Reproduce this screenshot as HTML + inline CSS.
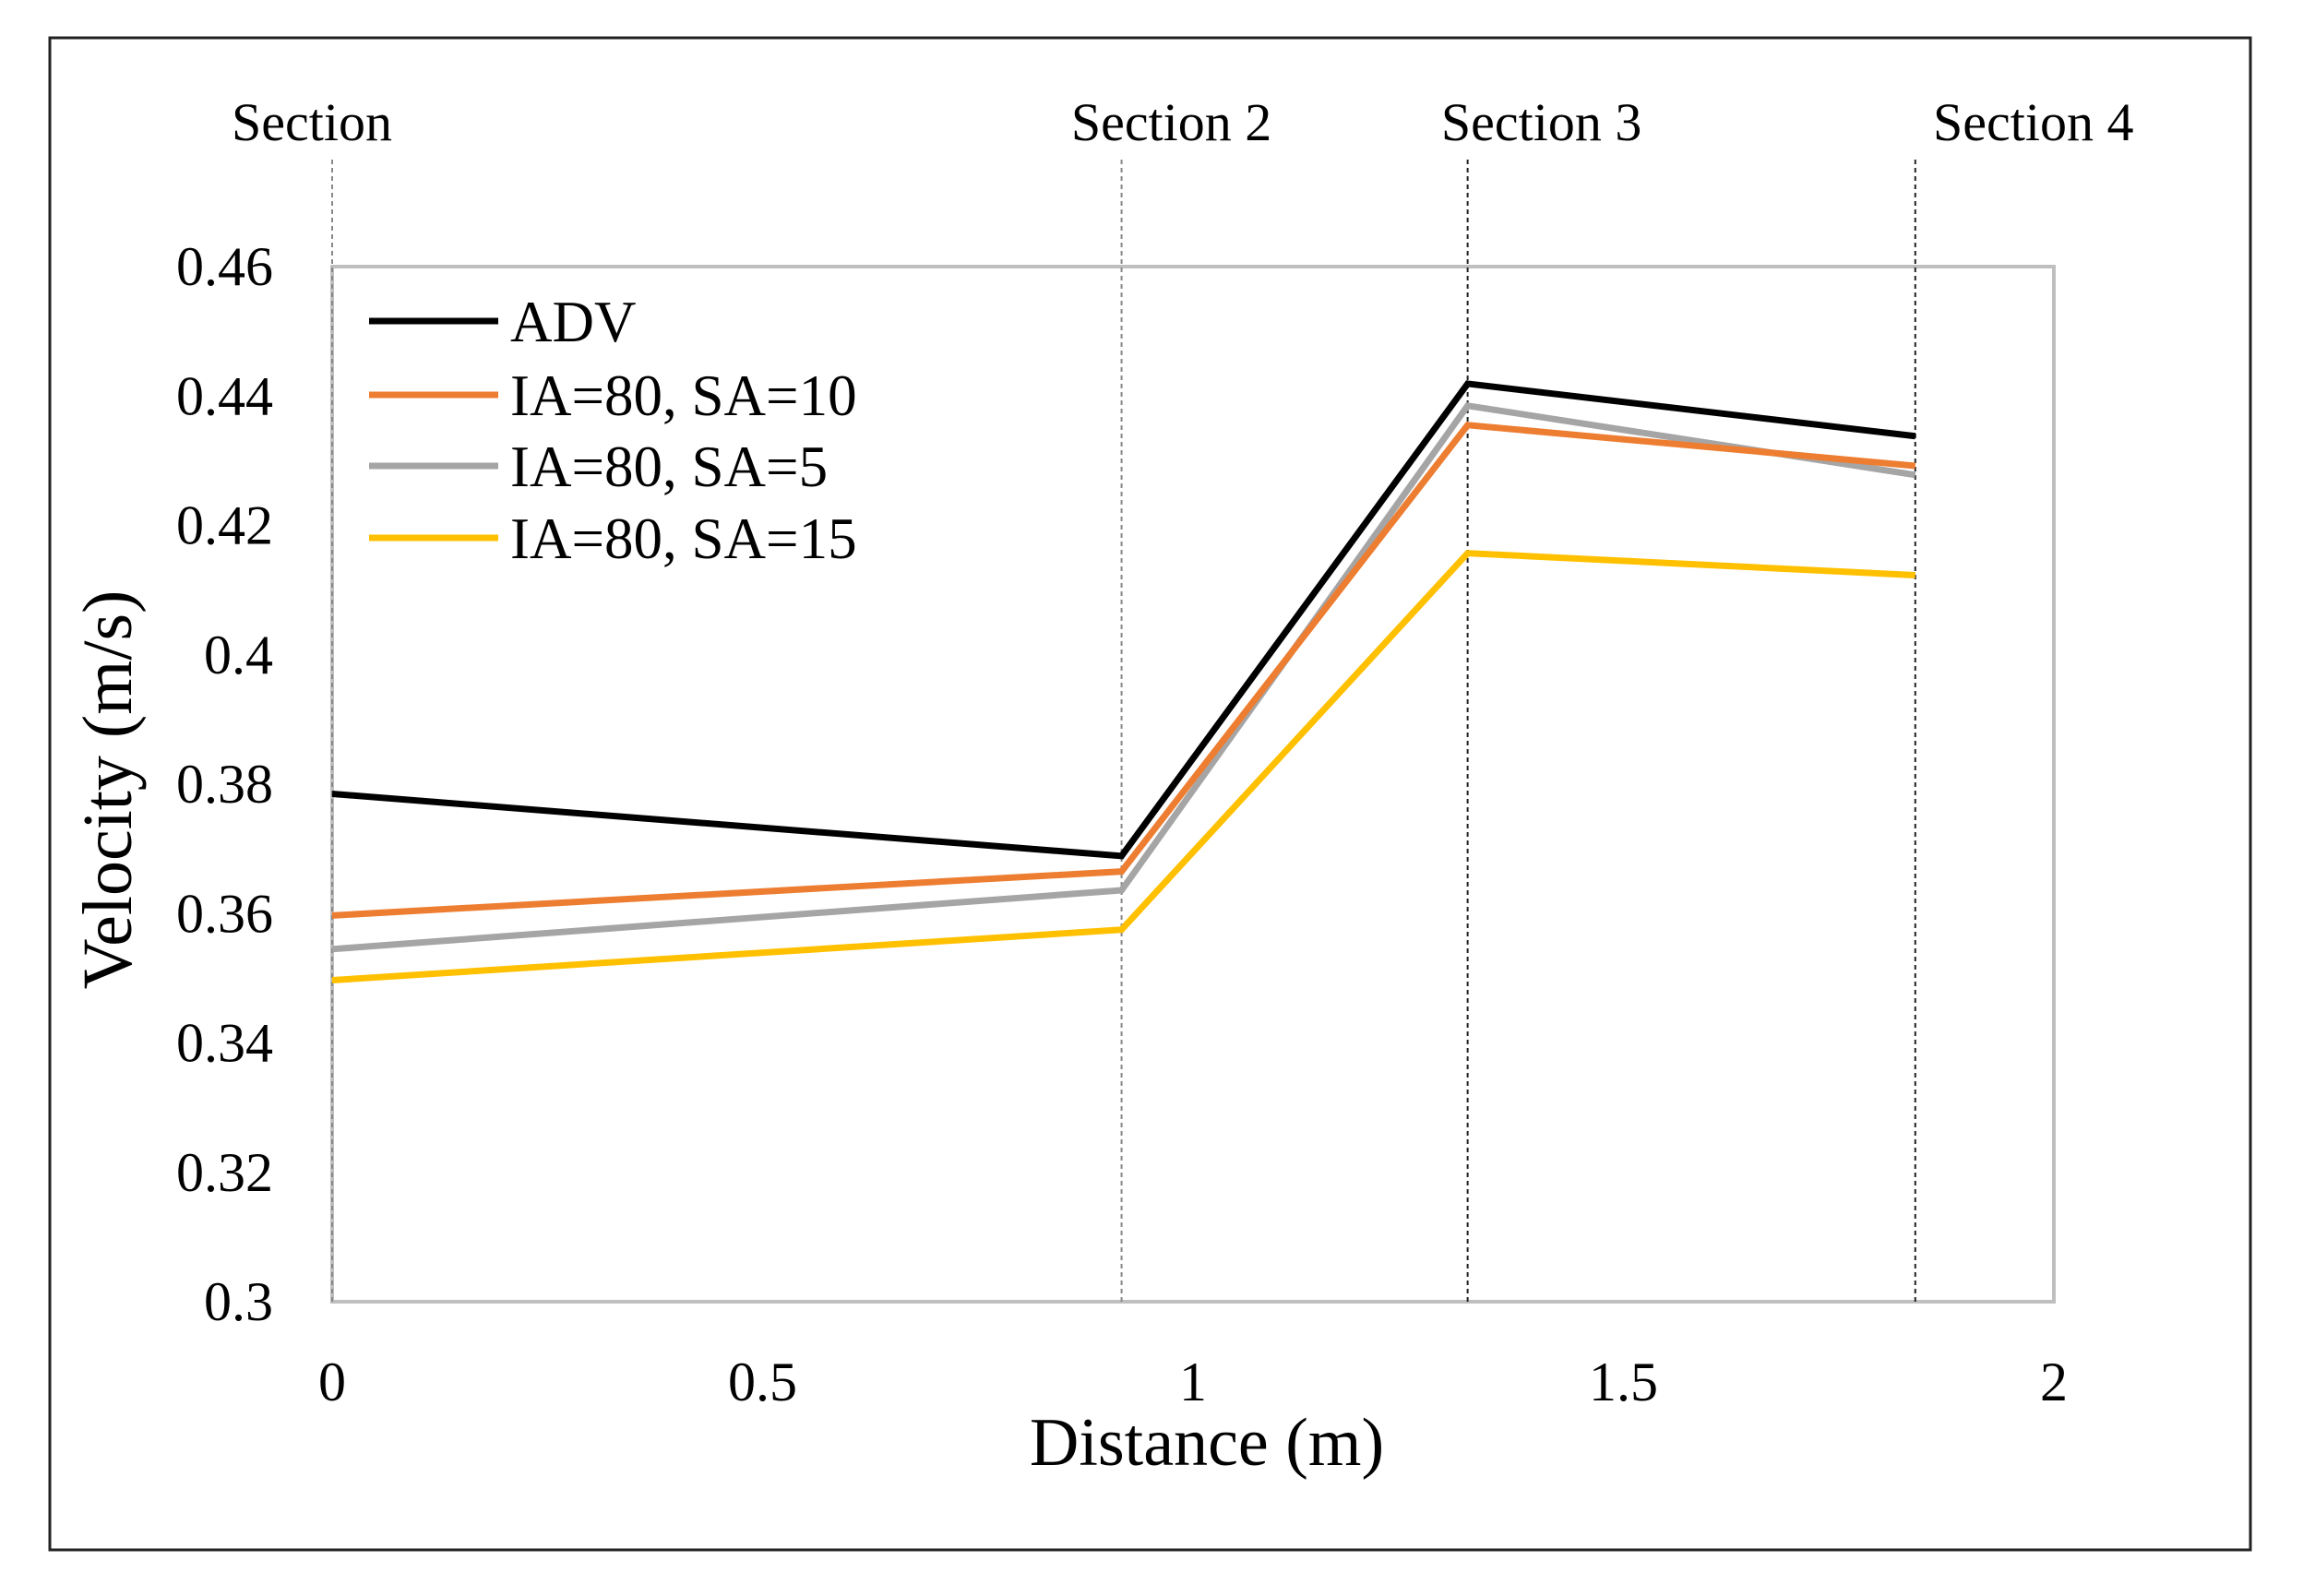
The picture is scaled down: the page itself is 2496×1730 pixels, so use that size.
<!DOCTYPE html>
<html><head><meta charset="utf-8"><style>
html,body{margin:0;padding:0;background:#fff;}
svg{display:block;font-family:"Liberation Serif",serif;}
</style></head><body>
<svg id="chart" width="2496" height="1730" viewBox="0 0 2496 1730">
<rect x="54" y="41" width="2385" height="1639" fill="#fff" stroke="#222" stroke-width="3"/>
<g id="grid"></g>
<g id="series"></g>
<g id="legend"></g>
<text x="1308" y="1588" font-size="74" text-anchor="middle">Distance (m)</text>
<text transform="translate(142,856) rotate(-90)" font-size="76" text-anchor="middle">Velocity (m/s)</text>
</svg>
<script>
const categories = [0, 0.917, 1.319, 1.839];
const seriesNames = ["ADV", "IA=80, SA=10", "IA=80, SA=5", "IA=80, SA=15"];
const adv = [0.3785, 0.3689, 0.4419, 0.4338];
const sa10 = [0.3597, 0.3665, 0.4355, 0.4292];
const sa5 = [0.3545, 0.3636, 0.4385, 0.4278];
const sa15 = [0.3497, 0.3575, 0.4157, 0.4123];
const yTicks = ["0.3","0.32","0.34","0.36","0.38","0.4","0.42","0.44","0.46"];
const xTicks = ["0","0.5","1","1.5","2"];
const sectionLabels = ["Section","Section 2","Section 3","Section 4"];

const NS="http://www.w3.org/2000/svg";
const X0=360,X1=2226,Y0=1411,Y1=289;
const xs=v=>X0+(v-0)/(2-0)*(X1-X0);
const ys=v=>Y0-(v-0.3)/(0.46-0.3)*(Y0-Y1);
function mk(tag,attrs,parent){const e=document.createElementNS(NS,tag);for(const k in attrs)e.setAttribute(k,attrs[k]);parent.appendChild(e);return e;}
const grid=document.getElementById('grid');
const series=document.getElementById('series');
const legend=document.getElementById('legend');

const frame=mk('rect',{x:X0,y:Y1,width:X1-X0,height:Y0-Y1,fill:'none',stroke:'#bfbfbf','stroke-width':4},grid);



yTicks.forEach(t=>{
  const e=mk('text',{x:296,y:ys(parseFloat(t))+20,'font-size':60,'text-anchor':'end'},grid);
  e.textContent=t;
  
  
});
xTicks.forEach(t=>{
  const e=mk('text',{x:xs(parseFloat(t)),y:1518,'font-size':60,'text-anchor':'middle'},grid);
  e.textContent=t;
  
  
});
const labelOffsets=[-22,54,80,128];
categories.forEach((c,i)=>{
  const l=mk('line',{x1:xs(c),x2:xs(c),y1:173,y2:Y0,stroke:i<2?'#888':'#222','stroke-width':2,'stroke-dasharray':'5,4'},grid);
  
  
  const t=mk('text',{x:xs(c)+labelOffsets[i],y:152,'font-size':58,'text-anchor':'middle'},grid);
  t.textContent=sectionLabels[i];
  
  
});
const data=[adv,sa10,sa5,sa15];
const colors=['#000000','#ed7d31','#a5a5a5','#ffc000'];
const names=['series-adv','series-sa10','series-sa5','series-sa15'];
[3,2,1,0].forEach(i=>{
  const pts=data[i].map((v,j)=>xs(categories[j])+','+ys(v)).join(' ');
  const p=mk('polyline',{points:pts,fill:'none',stroke:colors[i],'stroke-width':7,'stroke-linejoin':'miter'},series);
  
  
});
const ly=[348,428,505,583];
seriesNames.forEach((n,i)=>{
  const l=mk('line',{x1:400,x2:540,y1:ly[i],y2:ly[i],stroke:colors[i],'stroke-width':7},legend);
  
  
  const t=mk('text',{x:553,y:ly[i]+22,'font-size':63},legend);
  t.textContent=n;
  
  
});
</script>
</body></html>
